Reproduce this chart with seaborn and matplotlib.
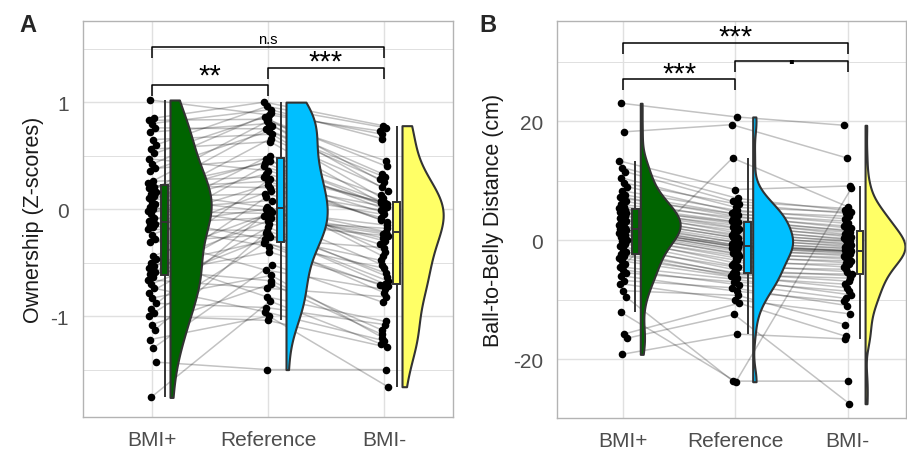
import numpy as np
import pandas as pd
import matplotlib
matplotlib.use('Agg')
import matplotlib.pyplot as plt
import seaborn as sns

# conditions and colours
groups = ['BMI+', 'Reference', 'BMI-']
palette = {'BMI+': '#006400', 'Reference': '#00BFFF', 'BMI-': '#FFFF66'}

# panel A: ownership z-scores, one value per participant (same order in each list)
own_bmi_plus = [-1.76, -1.43, -1.30, -1.22, -1.13, -1.08, -1.00, -0.97, -0.93, -0.88, -0.83, -0.78, -0.74, -0.70, -0.66, -0.63,
                -0.61, -0.59, -0.57, -0.55, -0.53, -0.50, -0.47, -0.44, -0.31, -0.28, -0.24, -0.19, -0.17, -0.15, -0.14, -0.13,
                -0.11, -0.08, -0.05, -0.02, 0.00, 0.02, 0.05, 0.07, 0.10, 0.12, 0.14, 0.16, 0.18, 0.20, 0.21, 0.22,
                0.24, 0.26, 0.36, 0.38, 0.42, 0.47, 0.52, 0.56, 0.60, 0.65, 0.72, 0.76, 0.80, 0.83, 0.85, 1.02]
own_reference = [-0.86, -1.50, -0.52, -1.00, -0.22, -0.70, -1.04, -0.32, -0.01, -0.92, -0.62, -0.17, -0.96, -0.26, -0.74, -0.06,
                 -0.40, 0.11, -0.67, -0.11, -0.30, 0.28, -0.82, -0.03, -0.24, -0.57, 0.17, -0.20, 0.40, -0.35, 0.00, -0.08,
                 0.23, -0.28, 0.50, -0.04, 0.08, -0.14, 0.33, 0.66, -0.02, 0.14, 0.45, 0.02, 0.78, 0.26, 0.43, 0.20,
                 0.82, 0.30, 0.73, 0.47, 0.90, 0.36, 0.86, 0.63, 0.96, 0.70, 0.80, 0.75, 0.93, 0.84, 1.00, 0.88]
own_bmi_minus = [-1.26, -1.50, -0.87, -1.66, -0.70, -1.17, -1.29, -0.55, -0.33, -1.08, -1.20, -0.63, -1.23, -0.48, -0.82, -0.23,
                 -0.72, -0.40, -1.13, -0.18, -0.78, -0.10, -1.05, -0.27, -0.67, -0.75, -0.01, -0.60, 0.04, -0.71, -0.30, -0.52,
                 0.02, -0.36, 0.13, -0.22, -0.44, -0.25, 0.06, 0.21, -0.15, -0.05, 0.08, -0.21, 0.33, -0.12, 0.00, -0.08,
                 0.45, -0.03, 0.28, 0.03, 0.70, 0.05, 0.25, 0.06, 0.76, 0.10, 0.17, 0.30, 0.66, 0.40, 0.78, 0.73]

# panel B: ball-to-belly distance (cm)
ball_bmi_plus = [-19.2, -16.5, -15.8, -12.1, -9.5, -8.5, -7.3, -6.8, -6.0, -5.5, -5.0, -4.5, -4.0, -3.5, -3.0, -2.6,
                 -2.3, -2.0, -1.5, -1.0, -0.6, -0.2, 0.0, 0.3, 0.5, 0.8, 1.0, 1.2, 1.4, 1.6, 1.7, 1.8,
                 1.9, 2.1, 2.3, 2.5, 2.8, 3.0, 3.2, 3.5, 3.7, 4.0, 4.2, 4.5, 4.6, 4.8, 5.0, 5.2,
                 5.4, 5.6, 6.0, 6.5, 7.0, 7.3, 7.6, 8.3, 9.0, 9.6, 10.5, 11.5, 12.2, 13.3, 18.2, 23.0]
ball_reference = [-15.8, -12.5, -10.6, -23.8, -23.7, -9.3, -10.0, -8.0, -8.6, -7.0, -7.5, -6.6, 13.8, -6.3, -5.8, -6.0,
                  -5.5, -5.6, -4.6, -5.0, -4.2, -3.4, -3.8, -2.7, -3.0, -2.1, -2.4, -1.8, -1.4, -1.6, -1.1, -1.2,
                  -1.0, -0.7, -0.9, -0.3, -0.5, 0.0, 0.5, 0.3, 1.0, 0.8, 1.6, 1.3, 1.9, 2.5, 2.2, 3.0,
                  2.8, 3.2, 3.8, 3.5, 4.3, 4.0, 4.5, 5.0, 4.8, 6.0, 5.5, 6.5, 7.0, 8.5, 19.4, 20.7]
ball_bmi_minus = [-16.6, -27.5, -16.2, 8.7, -23.7, -14.2, -12.4, -11.0, -10.3, -8.6, -9.8, -9.2, 5.6, -7.4, -6.4, -8.0,
                  -5.7, -6.9, -4.9, -6.0, -5.3, -4.5, -4.1, -3.8, -3.5, -3.2, -2.9, -2.4, -2.0, -2.6, -1.85, -2.2,
                  -1.9, -1.8, -1.7, -1.5, -1.3, -0.9, -0.5, -1.1, -0.1, -0.7, 0.3, -0.3, 0.1, 0.5, 0.8, 1.0,
                  1.3, 1.7, 2.4, 1.5, 3.2, 2.0, 2.8, 3.6, 4.0, 4.5, 4.7, 5.3, 5.0, 9.1, 13.8, 19.3]

own_yticks = [-1, 0, 1]
ball_yticks = [-20, 0, 20]

# significance labels: (from, to, label)
own_signif = [('BMI+', 'Reference', '**'), ('Reference', 'BMI-', '***'), ('BMI+', 'BMI-', 'n.s')]
ball_signif = [('BMI+', 'Reference', '***'), ('Reference', 'BMI-', '.'), ('BMI+', 'BMI-', '***')]

sns.set_style('white')
plt.rcParams['font.family'] = ['Liberation Sans', 'DejaVu Sans']

GRID = '#E0E0E0'
FRAME = '#B3B3B3'
OUTLINE = '#333333'


def long_table(plus, ref, minus):
    rows = []
    for g, vals in zip(groups, [plus, ref, minus]):
        for i, v in enumerate(vals):
            rows.append({'subject': i, 'cond': g, 'value': v})
    df = pd.DataFrame(rows)
    df['pos'] = df['cond'].map({g: k + 1 for k, g in enumerate(groups)})
    # fixed, evenly spread horizontal jitter for the dots
    jit = ((df['subject'] * 0.618034 + df['pos'] * 0.37) % 1 - 0.5) * 0.07
    df['pt_x'] = df['pos'] + jit
    df['box_x'] = df['pos'] + 0.11
    df['vio_x'] = df['pos'] + 0.155
    return df


def raincloud(ax, df, bw):
    # paired lines between conditions
    n0 = len(ax.lines)
    sns.lineplot(data=df, x='pt_x', y='value', units='subject', estimator=None,
                 color='black', alpha=0.24, linewidth=1.1, ax=ax, legend=False)
    for ln in list(ax.lines)[n0:]:
        ln.set_zorder(1)

    # half violins (fold the left half onto the centre line)
    c0 = len(ax.collections)
    sns.violinplot(data=df, x='vio_x', y='value', hue='cond', hue_order=groups, palette=palette,
                   native_scale=True, inner=None, cut=0, density_norm='area', width=0.71,
                   bw_method=bw, saturation=1, linecolor=OUTLINE, linewidth=1.5,
                   legend=False, ax=ax)
    for coll in list(ax.collections)[c0:]:
        for path in coll.get_paths():
            v = path.vertices
            mid = (v[:, 0].min() + v[:, 0].max()) / 2
            v[:, 0] = np.maximum(v[:, 0], mid)
        coll.set_zorder(2)

    # narrow boxplots, no caps
    p0, l0 = len(ax.patches), len(ax.lines)
    sns.boxplot(data=df, x='box_x', y='value', hue='cond', hue_order=groups, palette=palette,
                native_scale=True, width=0.06, showfliers=False, saturation=1,
                linecolor=OUTLINE, linewidth=1.4, legend=False, ax=ax, capwidths=0)
    for a in list(ax.patches)[p0:] + list(ax.lines)[l0:]:
        a.set_zorder(3)

    # dots
    sns.scatterplot(data=df, x='pt_x', y='value', color='black', s=30, linewidth=0,
                    ax=ax, zorder=4, legend=False)


def bracket(ax, a, b, y, tip, label, size, dy=0, weight='normal'):
    x1 = groups.index(a) + 1
    x2 = groups.index(b) + 1
    ax.plot([x1, x1, x2, x2], [y - tip, y, y, y - tip], color='black', lw=1.1,
            zorder=5, solid_capstyle='butt')
    ax.annotate(label, xy=((x1 + x2) / 2, y), xytext=(0, dy), textcoords='offset points',
                ha='center', va='baseline', fontsize=size, fontweight=weight, color='black')


def style_axes(ax, yticks, minor, ylim, xlim, ylabel, label_x):
    ax.set_xlim(*xlim)
    ax.set_ylim(*ylim)
    ax.set_xticks([1, 2, 3], labels=groups)
    ax.set_yticks(yticks, labels=[str(t) for t in yticks])
    ax.set_yticks(minor, minor=True)
    ax.set_xlabel('')
    ax.set_ylabel(ylabel, fontsize=15.5, color='#1A1A1A')
    ax.yaxis.set_label_coords(label_x, 0.5)
    ax.set_axisbelow(True)
    ax.grid(which='major', color=GRID, lw=1.0)
    ax.grid(which='minor', axis='y', color=GRID, lw=0.7)
    ax.tick_params(which='major', length=4, width=1, color=FRAME, labelcolor='#4D4D4D',
                   labelsize=15)
    ax.tick_params(axis='x', pad=5)
    ax.tick_params(axis='y', pad=6)
    ax.tick_params(which='minor', length=0)
    for sp in ax.spines.values():
        sp.set_visible(True)
        sp.set_color(FRAME)
        sp.set_linewidth(1.0)


fig = plt.figure(figsize=(9.07, 4.52), dpi=100)
axA = fig.add_axes([0.0915, 0.075, 0.408, 0.876])
axB = fig.add_axes([0.614, 0.073, 0.3845, 0.878])

dfA = long_table(own_bmi_plus, own_reference, own_bmi_minus)
raincloud(axA, dfA, 0.39)
style_axes(axA, own_yticks, [-1.5, -0.5, 0.5, 1.5], (-1.944, 1.757), (0.405, 3.595),
           'Ownership (Z-scores)', -0.105)
bracket(axA, *own_signif[0][:2], 1.159, 0.10, own_signif[0][2], 21, dy=1)
bracket(axA, *own_signif[1][:2], 1.318, 0.10, own_signif[1][2], 21, dy=-1)
bracket(axA, *own_signif[2][:2], 1.514, 0.10, own_signif[2][2], 10.5, dy=3)

dfB = long_table(ball_bmi_plus, ball_reference, ball_bmi_minus)
raincloud(axB, dfB, 0.30)
style_axes(axB, ball_yticks, [-10, 10, 30], (-29.9, 36.8), (0.413, 3.516),
           'Ball-to-Belly Distance (cm)', -0.151)
bracket(axB, *ball_signif[0][:2], 27.06, 1.85, ball_signif[0][2], 21, dy=-2)
bracket(axB, *ball_signif[1][:2], 30.08, 1.85, ball_signif[1][2], 20, dy=-1, weight='bold')
bracket(axB, *ball_signif[2][:2], 33.10, 1.85, ball_signif[2][2], 21, dy=-1)

fig.text(0.021, 1 - 26 / 452, 'A', fontsize=17, fontweight='bold', ha='left', va='center')
fig.text(0.528, 1 - 26 / 452, 'B', fontsize=17, fontweight='bold', ha='left', va='center')

fig.savefig('out.png', dpi=100)
